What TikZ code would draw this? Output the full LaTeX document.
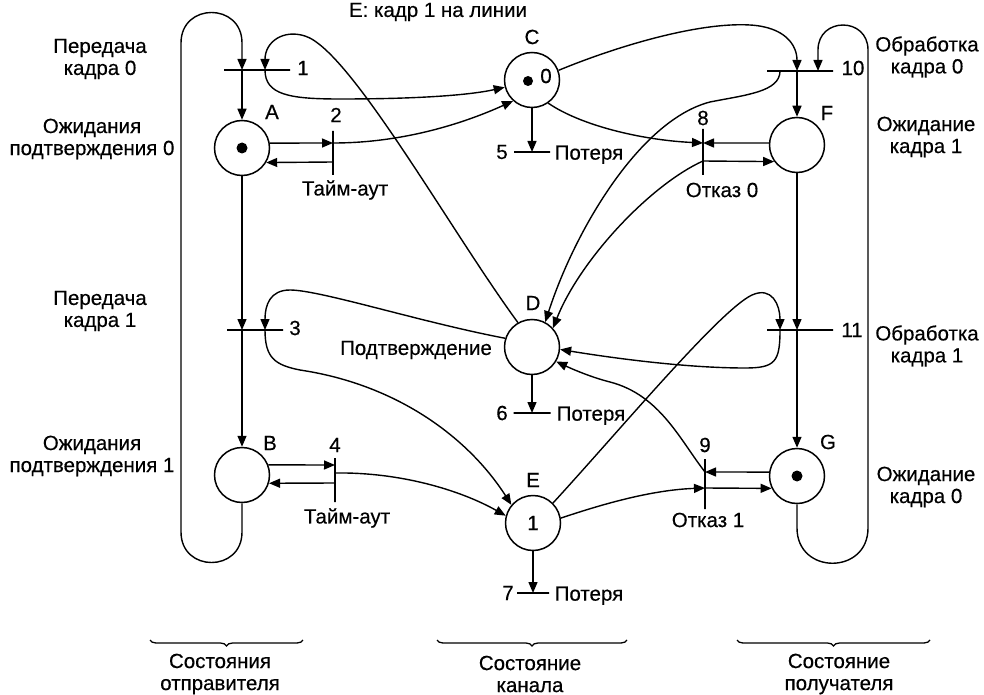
\documentclass[tikz,border=0pt]{standalone}
\usepackage{fontspec}
\setmainfont{Liberation Sans}[FakeBold=0.4]
\usetikzlibrary{arrows.meta,decorations.pathreplacing,calc}
\begin{document}
\begin{tikzpicture}[x=1pt,y=-1pt,line width=1.4pt,
  font=\fontsize{20.5}{22}\selectfont,
  arr/.style={-{Triangle[length=11pt,width=9pt]}},
  place/.style={circle,draw,line width=1.5pt,minimum size=55pt,inner sep=0pt},
  hbar/.style={rectangle,draw,line width=1.6pt,minimum height=0pt,inner sep=0pt,minimum width=#1},
  vbar/.style={rectangle,draw,line width=1.6pt,minimum width=0pt,inner sep=0pt,minimum height=#1},
  tok/.style={circle,fill,inner sep=0pt,minimum size=11pt},
  lab/.style={inner sep=0pt,align=center},
  brc/.style={decorate,decoration={brace,amplitude=6pt},line width=1.3pt}]
\useasboundingbox (0,0) rectangle (984,695);

% places
\node[place] (A) at (242,148) {};
\node[tok] (Atok) at (242,148) {};
\node[place] (B) at (242,475) {};
\node[place] (C) at (532,80) {};
\node[tok,minimum size=10pt] (Ctok) at (528,81) {};
\node[lab] (Cnum) at (546,76) {0};
\node[place] (D) at (532,347) {};
\node[place] (E) at (533,523) {1};
\node[place] (F) at (797,145) {};
\node[place] (G) at (797,476) {};
\node[tok] (Gtok) at (797,476) {};

% place letters
\node[lab] (Al) at (272,112) {A};
\node[lab] (Bl) at (270,443) {B};
\node[lab] (Cl) at (532,37) {C};
\node[lab] (Dl) at (533,303) {D};
\node[lab] (El) at (533,480) {E};
\node[lab] (Fl) at (827,113) {F};
\node[lab] (Gl) at (828,442) {G};

% transitions
\node[hbar=66pt] (t1) at (257,70) {};
\node[vbar=44pt] (t2) at (333,153) {};
\node[hbar=56pt] (t3) at (255,330) {};
\node[vbar=44pt] (t4) at (335,480) {};
\node[hbar=36pt] (t5) at (532,152) {};
\node[hbar=37pt] (t6) at (532,413) {};
\node[hbar=32pt] (t7) at (533,593) {};
\node[vbar=46pt] (t8) at (703,152) {};
\node[vbar=50pt] (t9) at (705,484) {};
\node[hbar=66pt] (t10) at (800,71) {};
\node[hbar=66pt] (t11) at (800,330) {};

% ports on transitions
\coordinate (t1a) at (242,70);
\coordinate (t1b) at (265,70);
\coordinate (t2a) at (333,143);
\coordinate (t2b) at (333,162);
\coordinate (t3a) at (242,330);
\coordinate (t3b) at (265,330);
\coordinate (t4a) at (335,465);
\coordinate (t4b) at (335,483);
\coordinate (t4c) at (335,473);
\coordinate (t5a) at (532,152);
\coordinate (t6a) at (532,413);
\coordinate (t7a) at (533,593);
\coordinate (t8a) at (703,143);
\coordinate (t8b) at (703,161);
\coordinate (t9a) at (705,472);
\coordinate (t9b) at (705,488);
\coordinate (t10a) at (797,71);
\coordinate (t10b) at (818,71);
\coordinate (t10c) at (780,71);
\coordinate (t11a) at (797,330);
\coordinate (t11b) at (780,330);

% transition labels
\node[lab] (l1) at (303,68) {1};
\node[lab] (l2) at (336,115) {2};
\node[lab] (l3) at (295,328) {3};
\node[lab] (l4) at (335,445) {4};
\node[lab] (l5) at (502,152) {5};
\node[lab,anchor=mid west] (p5) at (554,157) {Потеря};
\node[lab] (l6) at (502,413) {6};
\node[lab,anchor=mid west] (p6) at (556,418) {Потеря};
\node[lab] (l7) at (508,593) {7};
\node[lab,anchor=mid west] (p7) at (554,598) {Потеря};
\node[lab] (l8) at (703,118) {8};
\node[lab] (o0) at (722,190) {Отказ 0};
\node[lab] (l9) at (705,445) {9};
\node[lab] (o1) at (708,520) {Отказ 1};
\node[lab] (l10) at (853,68) {10};
\node[lab] (l11) at (852,330) {11};
\node[lab] (ta1) at (345,190) {Тайм-аут};
\node[lab] (ta2) at (347,518) {Тайм-аут};
\node[lab] (ack) at (416,350) {Подтверждение};

% side labels
\node[lab] (s1) at (100,59) {Передача\\кадра 0};
\node[lab] (s2) at (92,139) {Ожидания\\подтверждения 0};
\node[lab] (s3) at (100,311) {Передача\\кадра 1};
\node[lab] (s4) at (92,456) {Ожидания\\подтверждения 1};
\node[lab] (r1) at (927,57) {Обработка\\кадра 0};
\node[lab] (r2) at (926,137) {Ожидание\\кадра 1};
\node[lab] (r3) at (927,346) {Обработка\\кадра 1};
\node[lab] (r4) at (926,487) {Ожидание\\кадра 0};
\node[lab] (title) at (438,12) {E: кадр 1 на линии};

% bottom braces and captions
\draw[brc] (303,640) -- (150,640);
\draw[brc] (627,640) -- (437,640);
\draw[brc] (930,640) -- (737,640);
\node[lab] (b1) at (220,674) {Состояния\\отправителя};
\node[lab] (b2) at (530,674) {Состояние\\канала};
\node[lab] (b3) at (839,674) {Состояние\\получателя};

% sender loop and column
\draw[arr] (B.south) -- (242,532) .. controls (242,572.7) and (181,572.7) .. (181,532)
  -- (181,43) .. controls (181,2.3) and (242,2.3) .. (242,43) -- (t1a);
\draw[arr] (t1a) -- (A.north);
\draw[arr] (A.south) -- (t3a);
\draw[arr] (t3a) -- (B.north);

% receiver loop and column
\draw[arr] (G.south) -- (797,528) .. controls (797,575) and (868,575) .. (868,528)
  -- (868,50) .. controls (868,16.7) and (818,16.7) .. (818,50) -- (t10b);
\draw[arr] (t10a) -- (F.north);
\draw[arr] (F.south) -- (t11a);
\draw[arr] (t11a) -- (G.north);

% timeouts
\draw[arr] (A.10) -- (t2a);
\draw[arr] (t2b) -- (A.-31);
\draw[arr] (B.21) -- (t4a);
\draw[arr] (t4b) -- (B.-17);

% sender to channel
\draw[arr] (t1b) .. controls (265,95) and (290,99) .. (340,99)
  .. controls (420,99) and (470,95) .. (C.195);
\draw[arr] (t2a) .. controls (400,143) and (460,125) .. (C.228);
\draw[arr] (t3b) .. controls (265,358) and (275,365) .. (300,370)
  .. controls (400,385) and (470,440) .. (E.140);
\draw[arr] (t4c) .. controls (400,472) and (460,490) .. (E.165);

% acks to sender
\draw[arr] (D.120) .. controls (450,230) and (350,50) .. (305,36)
  .. controls (283,29) and (265,42) .. (t1b);
\draw[arr] (D.162) .. controls (420,322) and (320,290) .. (290,290)
  .. controls (270,290) and (265,305) .. (t3b);

% losses
\draw[arr] (C.south) -- (t5a);
\draw[arr] (D.south) -- (t6a);
\draw[arr] (E.south) -- (t7a);

% channel to receiver
\draw[arr] (C.20) .. controls (620,45) and (700,22) .. (750,25)
  .. controls (785,27) and (797,45) .. (t10a);
\draw[arr] (C.-55) .. controls (580,125) and (640,140) .. (t8a);
\draw[arr] (F.176) -- (t8a);
\draw[arr] (t8b) -- (F.216);
\draw[arr] (E.45) .. controls (620,430) and (720,310) .. (752,295)
  .. controls (772,286) and (780,305) .. (t11b);
\draw[arr] (E.10) .. controls (600,505) and (650,490) .. (t9b);
\draw[arr] (G.172) -- (t9a);
\draw[arr] (t9b) -- (G.206);

% receiver acks to channel
\draw[arr] (t10c) .. controls (780,92) and (745,95) .. (710,102)
  .. controls (640,120) and (575,230) .. (D.62);
\draw[arr] (t8b) .. controls (650,185) and (580,260) .. (D.42);
\draw[arr] (t11b) .. controls (780,362) and (775,368) .. (745,368)
  .. controls (680,368) and (600,356) .. (D.-5);
\draw[arr] (t9a) .. controls (680,440) and (660,395) .. (610,382)
  .. controls (590,377) and (570,368) .. (D.-31);
\end{tikzpicture}
\end{document}
